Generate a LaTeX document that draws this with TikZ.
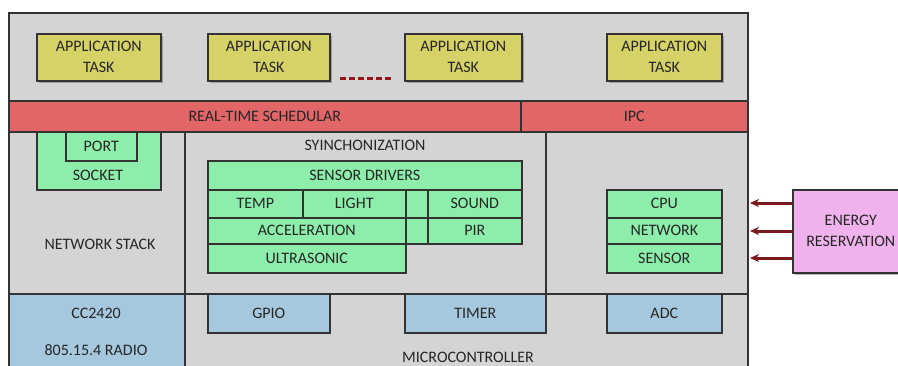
\documentclass[tikz,border=0pt]{standalone}
\usepackage{fontspec}
\setmainfont{Carlito}
\usetikzlibrary{positioning,shadows,arrows.meta}

\definecolor{panelgray}{RGB}{212,212,212}
\definecolor{taskyellow}{RGB}{214,210,104}
\definecolor{schedred}{RGB}{226,102,104}
\definecolor{drvgreen}{RGB}{140,238,170}
\definecolor{hwblue}{RGB}{166,200,222}
\definecolor{energypink}{RGB}{240,178,236}
\definecolor{arrowred}{RGB}{122,26,30}
\definecolor{txtgray}{RGB}{38,38,38}

\begin{document}
\begin{tikzpicture}[x=1pt, y=-1pt, >={Stealth[length=9pt,width=8pt]},
  font=\fontsize{16}{21}\selectfont, text=txtgray,
  every box/.style={draw=black!80, line width=1.6pt, inner sep=0pt,
    anchor=north west, align=center},
  task/.style={every box, fill=taskyellow,
    drop shadow={shadow xshift=2pt, shadow yshift=-2pt, opacity=0.6}},
  sched/.style={every box, fill=schedred},
  panel/.style={every box, fill=panelgray},
  driver/.style={every box, fill=drvgreen},
  hw/.style={every box, fill=hwblue},
  energy/.style={every box, fill=energypink,
    drop shadow={shadow xshift=2pt, shadow yshift=-2pt, opacity=0.6}},
  feed/.style={->, draw=arrowred, line width=3pt}]

\useasboundingbox (0,0) rectangle (898,365);

\node [panel, line width=1.8pt, minimum width=739, minimum height=360] (os) at (8,12) {};

\foreach \x/\w [count=\i] in {36/124, 207/122, 404/117, 606/115}
  \node [task, minimum width=\w, minimum height=47] (task-\i) at (\x,33) {APPLICATION\\TASK};

\draw [draw=arrowred!80!red, line width=3pt, dash pattern=on 6pt off 3pt] (340,78) -- (393,78);

\node [sched, minimum width=512, minimum height=31] (rts) at (8,100) {REAL-TIME SCHEDULAR};
\node [sched, minimum width=227, minimum height=31] (ipc) at (520,100) {IPC};

\node [panel, minimum width=176, minimum height=162] (netstack) at (8,131) {};
\node [panel, minimum width=361, minimum height=162] (sync) at (184,131) {};
\node [panel, minimum width=202, minimum height=162] (resource) at (545,131) {};

\node [driver, minimum width=124, minimum height=58] (socket) at (36,131) {};
\node [driver, minimum width=71, minimum height=29] (port) at (65,131) {PORT};
\node (socket-label) at (98,175) {SOCKET};
\node (netstack-label) at (100,244) {NETWORK STACK};

\node (sync-label) at (365,145) {SYINCHONIZATION};
\node [driver, minimum width=314, minimum height=29] (drivers) at (207,160) {SENSOR DRIVERS};

\foreach \m/\x/\y/\w/\h in {temp/207/189/95/28, light/302/189/103/28, gap1/405/189/22/28,
    sound/427/189/94/28, accel/207/217/198/26, gap2/405/217/22/26, pir/427/217/94/26,
    ultra/207/243/198/29}
  \node [driver, minimum width=\w, minimum height=\h] (drv-\m) at (\x,\y) {};

\foreach \m/\l in {temp/TEMP, light/LIGHT, sound/SOUND, accel/ACCELERATION, pir/PIR, ultra/ULTRASONIC}
  \node (lbl-\m) at (drv-\m.center) {\l};

\foreach \l/\y/\h [count=\i] in {CPU/189/28, NETWORK/217/26, SENSOR/243/29}
  \node [driver, minimum width=115, minimum height=\h] (res-\i) at (606,\y) {\l};

\node [hw, minimum width=176, minimum height=80] (radio) at (8,293) {};
\node (radio-chip) at (96,313) {CC2420};
\node (radio-std) at (96,350) {805.15.4 RADIO};

\foreach \l/\x/\w [count=\i] in {GPIO/207/122, TIMER/404/141, ADC/606/115}
  \node [hw, minimum width=\w, minimum height=39] (mcu-\i) at (\x,293) {\l};

\node (mcu-label) at (468,357) {MICROCONTROLLER};

\node [energy, minimum width=116, minimum height=83] (energy) at (792,189) {ENERGY\\RESERVATION};

\foreach \y [count=\i] in {203, 231, 258} {
  \coordinate (in-\i) at (750,\y);
  \draw [feed] (energy.west |- in-\i) -- (in-\i);
}
\end{tikzpicture}
\end{document}
